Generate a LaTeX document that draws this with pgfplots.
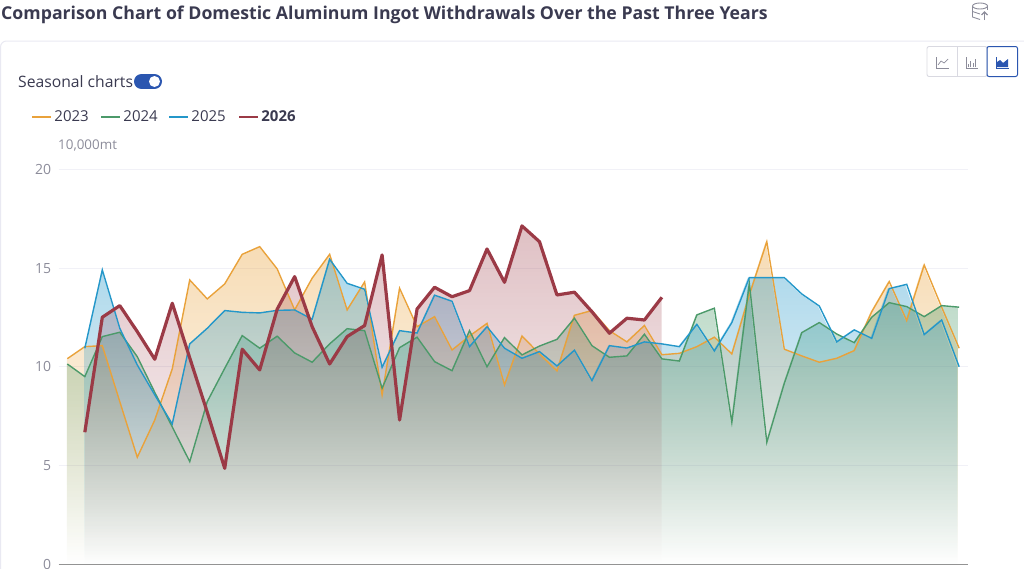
\documentclass[border=0pt]{standalone}
\usepackage{fontspec}
\setmainfont{Open Sans}
\usepackage{pgfplots}
\usepackage{pgfplotstable}
\pgfplotsset{compat=1.18}
\usetikzlibrary{fadings}

\definecolor{c23}{HTML}{E9A23B}
\definecolor{c24}{HTML}{4C9A6A}
\definecolor{c25}{HTML}{2497C9}
\definecolor{c26}{HTML}{9B3A46}
\definecolor{titlec}{HTML}{3A3A50}
\definecolor{labelc}{HTML}{8C8C9A}
\definecolor{gridc}{HTML}{F1F1F7}
\definecolor{cardc}{HTML}{E9E9F2}
\definecolor{toggle}{HTML}{2B56B0}

\tikzfading[name=areafade, top color=transparent!62, bottom color=transparent!100]
\tikzfading[name=redfade, top color=transparent!68, bottom color=transparent!100]

\pgfplotstableread[row sep=\\]{x y\\
0 10.41\\ 1 11.02\\ 2 11.07\\ 3 8.23\\ 4 5.41\\ 5 7.30\\ 6 9.89\\ 7 14.40\\ 8 13.44\\ 9 14.20\\
10 15.70\\ 11 16.09\\ 12 14.96\\ 13 12.88\\ 14 14.49\\ 15 15.70\\ 16 12.88\\ 17 14.30\\ 18 8.57\\ 19 13.98\\
20 12.03\\ 21 12.54\\ 22 10.85\\ 23 11.56\\ 24 12.20\\ 25 9.08\\ 26 11.56\\ 27 10.65\\ 28 9.79\\ 29 12.61\\
30 12.85\\ 31 11.83\\ 32 11.26\\ 33 12.09\\ 34 10.61\\ 35 10.68\\ 36 11.02\\ 37 11.50\\ 38 10.65\\ 39 13.64\\
40 16.34\\ 41 10.89\\ 42 10.55\\ 43 10.23\\ 44 10.43\\ 45 10.82\\ 46 12.79\\ 47 14.32\\ 48 12.34\\ 49 15.16\\
50 13.02\\ 51 10.94\\}\tA

\pgfplotstableread[row sep=\\]{x y\\
0 10.14\\ 1 9.50\\ 2 11.53\\ 3 11.75\\ 4 10.51\\ 5 8.70\\ 6 6.95\\ 7 5.19\\ 8 8.23\\ 9 9.92\\
10 11.58\\ 11 10.94\\ 12 11.55\\ 13 10.70\\ 14 10.23\\ 15 11.16\\ 16 11.93\\ 17 11.83\\ 18 8.91\\ 19 10.97\\
20 11.50\\ 21 10.26\\ 22 9.80\\ 23 11.83\\ 24 10.00\\ 25 11.48\\ 26 10.60\\ 27 11.05\\ 28 11.39\\ 29 12.46\\
30 11.07\\ 31 10.48\\ 32 10.55\\ 33 11.65\\ 34 10.40\\ 35 10.29\\ 36 12.63\\ 37 12.97\\ 38 7.18\\ 39 14.23\\
40 6.17\\ 41 9.16\\ 42 11.73\\ 43 12.24\\ 44 11.66\\ 45 11.22\\ 46 12.51\\ 47 13.25\\ 48 13.05\\ 49 12.54\\
50 13.10\\ 51 13.02\\}\tB

\pgfplotstableread[row sep=\\]{x y\\
1 10.94\\ 2 14.91\\ 3 11.95\\ 4 10.09\\ 5 8.57\\ 6 7.10\\ 7 11.16\\ 8 11.95\\ 9 12.85\\
10 12.76\\ 11 12.73\\ 12 12.86\\ 13 12.88\\ 14 12.41\\ 15 15.45\\ 16 14.23\\ 17 13.93\\ 18 9.97\\ 19 11.83\\
20 11.71\\ 21 13.63\\ 22 13.32\\ 23 11.02\\ 24 12.03\\ 25 10.94\\ 26 10.43\\ 27 10.77\\ 28 10.04\\ 29 10.84\\
30 9.30\\ 31 11.07\\ 32 10.95\\ 33 11.26\\ 34 11.16\\ 35 11.02\\ 36 12.15\\ 37 10.80\\ 38 12.24\\ 39 14.52\\
40 14.52\\ 41 14.52\\ 42 13.69\\ 43 13.08\\ 44 11.26\\ 45 11.87\\ 46 11.44\\ 47 13.96\\ 48 14.18\\ 49 11.63\\
50 12.37\\ 51 10.00\\}\tC

\pgfplotstableread[row sep=\\]{x y\\
1 6.68\\ 2 12.51\\ 3 13.10\\ 4 11.78\\ 5 10.38\\ 6 13.22\\ 7 10.45\\ 8 7.70\\ 9 4.85\\
10 10.89\\ 11 9.84\\ 12 12.92\\ 13 14.57\\ 14 12.03\\ 15 10.14\\ 16 11.53\\ 17 12.09\\ 18 15.67\\ 19 7.30\\
20 12.93\\ 21 14.03\\ 22 13.55\\ 23 13.86\\ 24 15.97\\ 25 14.28\\ 26 17.14\\ 27 16.34\\ 28 13.64\\ 29 13.78\\
30 12.79\\ 31 11.70\\ 32 12.46\\ 33 12.37\\ 34 13.52\\}\tD

\begin{document}
\begin{tikzpicture}
% page frame, coordinates in reference pixels (y down)
\path[use as bounding box] (0pt,0pt) rectangle (1024pt,-568pt);
\begin{scope}[x=1pt,y=-1pt]
  \draw[cardc, rounded corners=6pt, line width=1pt] (0.5,41) rectangle (1030,600);
  \node[anchor=west, text=titlec, inner sep=0pt] at (1,15)
    {\fontsize{17.7}{20}\selectfont\bfseries Comparison Chart of Domestic Aluminum Ingot Withdrawals Over the Past Three Years};
  \node[anchor=west, text=titlec, inner sep=0pt] at (18,81.5)
    {\fontsize{15.7}{18}\selectfont Seasonal charts};
  \draw[toggle, line width=15pt, line cap=round] (141.5,81.5) -- (154.5,81.5);
  \fill[white] (154.5,81.5) circle[radius=5.5];
  \node[anchor=west, text=labelc, inner sep=0pt] at (58,146)
    {\fontsize{13.4}{15}\selectfont 10,000mt};
  % chart type buttons
  \draw[cardc!85!gray, rounded corners=2pt, line width=0.9pt] (927,46.5) rectangle (987,76.5);
  \draw[cardc!85!gray, line width=0.9pt] (957,46.5) -- (957,76.5);
  \draw[toggle, rounded corners=2pt, line width=1pt] (987,46.5) rectangle (1017.5,76.5);
  \draw[labelc, line width=0.8pt] (936,57) -- (936,68) -- (949,68);
  \draw[labelc, line width=0.7pt] (938,65) -- (941,61) -- (944,63) -- (948,59);
  \draw[labelc, line width=0.8pt] (966,57) -- (966,68) -- (978,68);
  \foreach \bx/\bt in {968.5/64,970.5/61,973/63,975.5/59} \draw[labelc, line width=0.8pt] (\bx,67) -- (\bx,\bt);
  \draw[toggle, line width=0.9pt] (996,57) -- (996,68) -- (1009,68);
  \fill[toggle] (997,67) -- (997,62) -- (1000,60) -- (1003,63) -- (1008,59) -- (1008,67) -- cycle;
  % export icon
  \draw[labelc, line width=0.9pt] (980,6) ellipse[x radius=7.5, y radius=3];
  \draw[labelc, line width=0.9pt] (972.5,6) -- (972.5,17) -- (980,19.5);
  \draw[labelc, line width=0.9pt] (987.5,6) -- (987.5,10);
  \draw[labelc, line width=0.9pt] (972.5,11.5) -- (980,14);
  \draw[labelc, line width=1.1pt] (984.5,20) -- (984.5,12.5);
  \draw[labelc, line width=1.1pt] (981.5,15) -- (984.5,12) -- (987.5,15);
\end{scope}

\begin{axis}[
  scale only axis, anchor=south west, at={(58.6pt,-564pt)},
  width=909.3pt, height=394.5pt,
  xmin=-0.5, xmax=51.5, ymin=0, ymax=20,
  axis x line*=bottom, axis y line*=left,
  y axis line style={draw=none},
  x axis line style={draw=gray!85, line width=1pt, -},
  xtick=\empty, ytick={0,5,10,15,20},
  ymajorgrids, grid style={gridc, line width=1pt},
  major tick length=0pt,
  tick label style={text=labelc, font=\fontsize{14}{16}\selectfont},
  /pgf/number format/assume math mode=true,
  yticklabel style={xshift=-4pt},
  legend style={draw=none, fill=none, at={(-0.0301,1.1331)}, anchor=west,
    font=\fontsize{15}{17}\selectfont, text=titlec, inner sep=0pt,
    legend columns=-1,
    /tikz/every even column/.append style={column sep=0pt}},
  legend image code/.code={\draw[#1] (0pt,0pt) -- (16pt,0pt); \path (0pt,0pt) -- (19pt,0pt);},
  legend cell align=left,
  clip=false,
]
% areas first, the lines stay on top of every area
\addplot[draw=none, fill=c23, path fading=areafade, fit fading=true, forget plot] table {\tA} \closedcycle;
\addplot[draw=none, fill=c24, path fading=areafade, fit fading=true, forget plot] table {\tB} \closedcycle;
\addplot[draw=none, fill=c25, path fading=areafade, fit fading=true, forget plot] table {\tC} \closedcycle;
\addplot[draw=none, fill=c26, path fading=redfade, fit fading=true, forget plot] table {\tD} \closedcycle;
\addplot[c23, line width=1.4pt, sharp plot, forget plot] table {\tA};
\addplot[c24, line width=1.4pt, sharp plot, forget plot] table {\tB};
\addplot[c25, line width=1.4pt, sharp plot, forget plot] table {\tC};
\addplot[c26, line width=3.2pt, sharp plot, line join=round, forget plot] table {\tD};
\addlegendimage{c23, line width=2pt}
\addlegendimage{c24, line width=2pt}
\addlegendimage{c25, line width=2pt}
\addlegendimage{c26, line width=2pt}
\legend{\makebox[44pt][l]{2023},\makebox[43pt][l]{2024},\makebox[45pt][l]{2025},\textbf{2026}}
\end{axis}
\end{tikzpicture}
\end{document}
